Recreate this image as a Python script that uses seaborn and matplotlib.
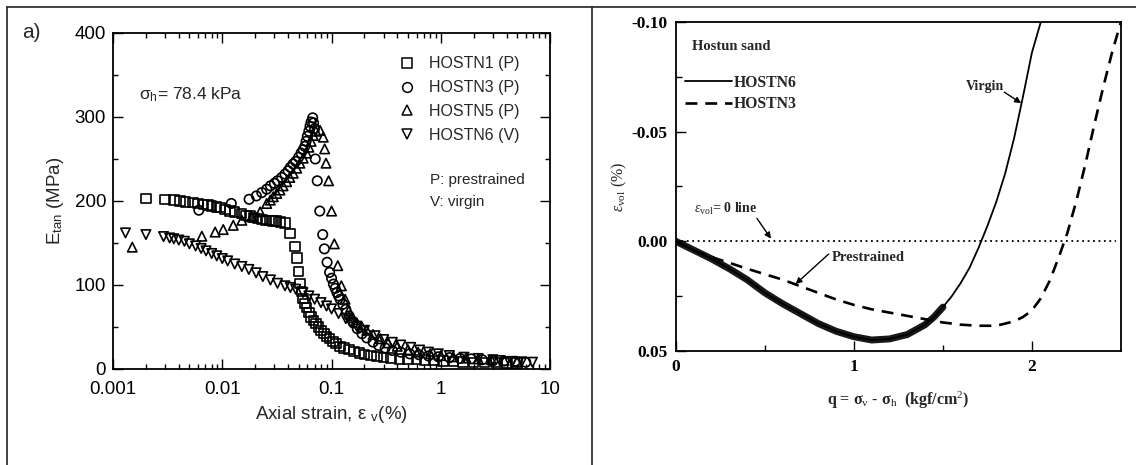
import numpy as np
import pandas as pd
import matplotlib
matplotlib.use("Agg")
import matplotlib.pyplot as plt
from matplotlib.lines import Line2D
from matplotlib.ticker import LogLocator, NullFormatter
import seaborn as sns

# ---------------- panel a) : tangent modulus vs axial strain ----------------
hostn1_strain = [0.002, 0.003, 0.0036, 0.0041, 0.0046, 0.0054, 0.006, 0.0067, 0.0074, 0.008,
                 0.0088, 0.0095, 0.0106, 0.0118, 0.013, 0.015, 0.0165, 0.018, 0.0192, 0.021,
                 0.023, 0.025, 0.027, 0.029, 0.031, 0.034, 0.0376, 0.0417, 0.0464, 0.0481,
                 0.0497, 0.0513, 0.053, 0.055, 0.057, 0.059, 0.062, 0.065, 0.068, 0.072,
                 0.076, 0.08, 0.085, 0.09, 0.096, 0.103, 0.11, 0.12, 0.13, 0.145,
                 0.16, 0.18, 0.2, 0.23, 0.26, 0.3, 0.35, 0.42, 0.5, 0.6,
                 0.72, 0.87, 1.05, 1.3, 1.6, 2.0, 2.5, 3.2, 4.0, 5.0]
hostn1_E = [203, 202, 201, 200, 199, 198, 197, 196, 195, 194,
            193, 192, 190, 188, 187, 185, 183, 182, 180, 179,
            178, 177, 177, 176, 176, 175, 174, 161, 146, 132,
            116, 102, 92, 84, 78, 73, 67, 62, 58, 54,
            50, 46, 42, 39, 36, 33, 30, 27, 25, 23,
            21, 19, 17, 16, 15, 14, 13, 12, 11.5, 11,
            10.5, 10, 9.5, 9, 8.5, 8, 8, 7.5, 7, 7]

hostn3_strain = [0.0061, 0.0121, 0.0176, 0.0205, 0.023, 0.0255, 0.0276, 0.030, 0.032, 0.035,
                 0.0375, 0.040, 0.042, 0.0445, 0.047, 0.050, 0.0526, 0.055, 0.057, 0.0585,
                 0.060, 0.062, 0.0635, 0.065, 0.0672, 0.0685, 0.0700, 0.071, 0.074, 0.078,
                 0.083, 0.086, 0.091, 0.096, 0.100, 0.104, 0.108, 0.112, 0.116, 0.120,
                 0.127, 0.135, 0.145, 0.158, 0.172, 0.19, 0.21, 0.24, 0.27, 0.31,
                 0.36, 0.43, 0.52, 0.63, 0.77, 0.95, 1.2, 1.5, 1.9, 2.4,
                 3.0, 3.8, 4.8, 6.0]
hostn3_E = [189, 197, 202, 206, 210, 214, 218, 221, 224, 228,
            232, 236, 240, 244, 247, 252, 257, 261, 265, 271,
            277, 283, 289, 294, 299, 293, 286, 250, 224, 188,
            160, 143, 127, 115, 108, 101, 96, 91, 87, 83,
            77, 71, 63, 55, 48, 42, 37, 32, 28, 25,
            22, 20, 18, 17, 15.5, 14.5, 13.5, 12.5, 12, 11,
            10, 9.5, 9, 8]

hostn5_strain = [0.0015, 0.0065, 0.0086, 0.0102, 0.0126, 0.0151, 0.0186, 0.0222, 0.0255, 0.0275,
                 0.0293, 0.0315, 0.0337, 0.036, 0.0388, 0.0415, 0.0446, 0.048, 0.0513, 0.055,
                 0.059, 0.062, 0.065, 0.068, 0.072, 0.0785, 0.084, 0.0865, 0.089, 0.094,
                 0.1, 0.106, 0.114, 0.123, 0.133, 0.144, 0.155, 0.17, 0.19, 0.21,
                 0.24, 0.28, 0.33, 0.4, 0.5, 0.62, 0.8, 1.0, 1.3, 1.7,
                 2.2, 2.9, 3.8, 5.0]
hostn5_E = [145, 158, 163, 166, 171, 177, 181, 187, 197, 201,
            205, 209, 213, 218, 223, 228, 233, 239, 245, 251,
            257, 264, 271, 278, 283, 284, 276, 262, 245, 224,
            188, 149, 123, 99, 83, 69, 61, 55, 50, 46,
            41, 36, 31, 27, 23, 20, 18, 16, 14.5, 13,
            12, 11, 10, 9]

hostn6_strain = [0.0013, 0.002, 0.0029, 0.0033, 0.0036, 0.004, 0.0045, 0.005, 0.0057, 0.0064,
                 0.0071, 0.008, 0.0089, 0.01, 0.0112, 0.013, 0.0151, 0.0175, 0.0204, 0.0235,
                 0.0276, 0.032, 0.0375, 0.042, 0.047, 0.0547, 0.062, 0.07, 0.08, 0.09,
                 0.1, 0.116, 0.135, 0.15, 0.17, 0.2, 0.25, 0.3, 0.36, 0.43,
                 0.53, 0.64, 0.77, 0.95, 1.2, 1.63, 2.2, 3.0, 3.47, 4.5,
                 5.5, 6.9]
hostn6_E = [162, 160, 157.6, 156, 155, 153.5, 152, 149, 146.5, 143.5,
            140.6, 137.5, 134.7, 131.5, 128.7, 125, 122, 118.5, 114.5, 110,
            106, 102, 99, 97, 95, 91, 87, 83, 79, 75,
            71.5, 66, 60, 56, 51, 46, 39.6, 35, 31.7, 28.5,
            25.7, 22.5, 20, 18, 16, 14, 12.5, 11, 10, 9,
            8.5, 8]

series_a = ["HOSTN1 (P)", "HOSTN3 (P)", "HOSTN5 (P)", "HOSTN6 (V)"]
markers_a = ["s", "o", "^", "v"]
xticks_a = [0.001, 0.01, 0.1, 1, 10]
xticklabels_a = ["0.001", "0.01", "0.1", "1", "10"]
yticks_a = [0, 100, 200, 300, 400]

# ---------------- panel b) : volumetric strain vs deviator stress ----------------
q_hostn6 = [0, 0.1, 0.2, 0.3, 0.4, 0.5, 0.6, 0.7, 0.8, 0.9, 1.0, 1.1, 1.2, 1.3, 1.4,
            1.45, 1.5, 1.55, 1.6, 1.65, 1.7, 1.75, 1.8, 1.85, 1.9, 1.95, 2.0, 2.05]
eps_hostn6 = [0, 0.004, 0.008, 0.0125, 0.0175, 0.0235, 0.0285, 0.033, 0.0375, 0.041,
              0.0435, 0.045, 0.0445, 0.0425, 0.038, 0.0345, 0.030, 0.025, 0.019, 0.012,
              0.003, -0.007, -0.018, -0.031, -0.047, -0.066, -0.086, -0.1]
q_hostn3 = [0, 0.1, 0.15, 0.2, 0.3, 0.4, 0.5, 0.6, 0.7, 0.8, 0.9, 1.0, 1.1, 1.2, 1.3,
            1.4, 1.5, 1.6, 1.7, 1.8, 1.9, 1.95, 2.0, 2.05, 2.1, 2.15, 2.2, 2.25, 2.3,
            2.35, 2.4, 2.45, 2.5]
eps_hostn3 = [0, 0.004, 0.0058, 0.0072, 0.0098, 0.0125, 0.015, 0.0175, 0.0205, 0.0235,
              0.0265, 0.029, 0.031, 0.0325, 0.034, 0.0355, 0.037, 0.038, 0.0385, 0.0385,
              0.0365, 0.0345, 0.0315, 0.026, 0.018, 0.0075, -0.004, -0.0185, -0.035,
              -0.053, -0.07, -0.086, -0.1]
yticks_b = [-0.10, -0.05, 0.00, 0.05]
yticklabels_b = ["-0.10", "-0.05", "0.00", "0.05"]
xticks_b = [0, 1, 2]

# ---------------- styling ----------------
sns.set_style("ticks")
plt.rcParams.update({
    "font.family": ["Liberation Sans", "DejaVu Sans"],
    "mathtext.fontset": "custom",
    "mathtext.rm": "Liberation Serif",
    "mathtext.it": "Liberation Serif:italic",
    "mathtext.bf": "Liberation Serif:bold",
    "mathtext.sf": "Liberation Sans",
})
SERIF = ["Liberation Serif", "DejaVu Serif"]

fig = plt.figure(figsize=(11.36, 4.65), dpi=100)
ax1 = fig.add_axes([0.0995, 0.2065, 0.3847, 0.7226])
ax2 = fig.add_axes([0.595, 0.2452, 0.3917, 0.7075])

# ---- panel a ----
frames = []
for name, xs, ys in zip(series_a,
                        [hostn1_strain, hostn3_strain, hostn5_strain, hostn6_strain],
                        [hostn1_E, hostn3_E, hostn5_E, hostn6_E]):
    frames.append(pd.DataFrame({"strain": xs, "E": ys, "series": name}))
df_a = pd.concat(frames, ignore_index=True)

sns.scatterplot(data=df_a, x="strain", y="E", style="series",
                markers=dict(zip(series_a, markers_a)), style_order=series_a,
                color="black", s=46, linewidth=1.2, legend=False, ax=ax1)
for coll in ax1.collections:
    coll.set_facecolor("none")
    coll.set_edgecolor("black")

ax1.set_xscale("log")
ax1.set_xlim(0.001, 10)
ax1.set_ylim(0, 400)
ax1.set_xticks(xticks_a, labels=xticklabels_a)
ax1.xaxis.set_minor_locator(LogLocator(base=10, subs=np.arange(2, 10) * 1.0, numticks=30))
ax1.xaxis.set_minor_formatter(NullFormatter())
ax1.set_yticks(yticks_a)
ax1.set_yticks([50, 150, 250, 350], minor=True)
ax1.tick_params(which="both", direction="in", top=True, right=True, width=1.0,
                labelsize=13.5, colors="black")
ax1.tick_params(which="major", length=7)
ax1.tick_params(which="minor", length=3.5)
ax1.tick_params(axis="x", which="major", pad=9)
ax1.tick_params(axis="y", which="major", pad=5)
for sp in ax1.spines.values():
    sp.set_linewidth(1.3)
    sp.set_color("black")
    sp.set_visible(True)
ax1.set_xlabel(r"Axial strain, ε $_{\mathsf{v}}$(%)", fontsize=13.5, labelpad=4)
ax1.set_ylabel(r"E$_{\mathsf{tan}}$ (MPa)", fontsize=13.5, labelpad=6)

ax1.text(0.00173, 326, r"σ$_{\mathsf{h}}$= 78.4 kPa", fontsize=12.5, va="center", ha="left")

handles = [Line2D([], [], ls="none", marker=m, ms=7, mfc="none", mec="black", mew=1.1)
           for m in markers_a]
ax1.legend(handles, series_a, loc="upper left", bbox_to_anchor=(0.654, 0.93),
           frameon=False, fontsize=11.5, handlelength=1.0, handletextpad=0.9,
           labelspacing=0.55, borderaxespad=0, borderpad=0)
ax1.text(0.797, 225, "P: prestrained", fontsize=11, va="center", ha="left")
ax1.text(0.797, 199, "V: virgin", fontsize=11, va="center", ha="left")

fig.text(0.028, 0.93, "a)", fontsize=15, ha="center", va="center")

# ---- panel b ----
q6 = np.array(q_hostn6)
e6 = np.array(eps_hostn6)
sns.lineplot(x=q6, y=e6, color="black", lw=1.3, estimator=None, sort=False, ax=ax2)
noisy = q6 <= 1.5
sns.lineplot(x=q6[noisy], y=e6[noisy], color="black", lw=5.0, alpha=0.9,
             estimator=None, sort=False, ax=ax2)
sns.lineplot(x=q_hostn3, y=eps_hostn3, color="black", lw=1.9, estimator=None, sort=False,
             ax=ax2).lines[-1].set_dashes((4.5, 3.0))
ax2.axhline(0, xmin=0, xmax=0.99, color="black", lw=1.3, ls=(0, (1.0, 2.0)))

ax2.set_xlim(0, 2.5)
ax2.set_ylim(0.05, -0.1)
ax2.set_xticks(xticks_b)
ax2.set_xticks([0.5, 1.5], minor=True)
ax2.set_yticks(yticks_b, labels=yticklabels_b)
ax2.set_yticks([-0.075, -0.025, 0.025], minor=True)
ax2.tick_params(which="both", direction="in", top=False, right=False, width=1.0,
                labelsize=12.5, colors="black")
ax2.tick_params(which="major", length=7, pad=6)
ax2.tick_params(which="minor", length=4)
for lab in ax2.get_xticklabels() + ax2.get_yticklabels():
    lab.set_family(SERIF)
    lab.set_fontweight("bold")
for sp in ax2.spines.values():
    sp.set_linewidth(1.3)
    sp.set_color("black")
    sp.set_visible(True)
ax2.set_xlabel(r"q = σ$_{\mathrm{v}}$ - σ$_{\mathrm{h}}$  (kgf/cm$^{\mathrm{2}}$)",
               fontsize=11.5, family=SERIF, fontweight="bold", labelpad=10)
ax2.set_ylabel(r"$\varepsilon_{\mathrm{vol}}$ (%)", fontsize=11.5, family=SERIF, labelpad=2)

ax2.text(0.09, -0.089, "Hostun sand", fontsize=10.5, family=SERIF, fontweight="bold",
         va="center", ha="left")
leg_handles = [Line2D([], [], color="black", lw=1.3),
               Line2D([], [], color="black", lw=1.9, dashes=(4.5, 3.0))]
ax2.legend(leg_handles, ["HOSTN6", "HOSTN3"], loc="upper left", bbox_to_anchor=(0.02, 0.84),
           frameon=False, prop={"family": SERIF, "weight": "bold", "size": 11.3},
           handlelength=3.0, handletextpad=0.1, labelspacing=0.35, borderaxespad=0,
           borderpad=0)

arrow = dict(arrowstyle="-|>", color="black", lw=1.0, mutation_scale=9, shrinkA=0, shrinkB=0)
ax2.text(1.63, -0.0705, "Virgin", fontsize=10, family=SERIF, fontweight="bold",
         va="center", ha="left")
ax2.annotate("", xy=(1.94, -0.063), xytext=(1.845, -0.068), arrowprops=arrow)
ax2.text(0.1, -0.0149, r"$\varepsilon_{\mathrm{vol}}$= 0 line", fontsize=10, family=SERIF,
         fontweight="bold", va="center", ha="left")
ax2.annotate("", xy=(0.534, -0.0012), xytext=(0.455, -0.0105), arrowprops=arrow)
ax2.text(0.877, 0.0074, "Prestrained", fontsize=10.5, family=SERIF, fontweight="bold",
         va="center", ha="left")
ax2.annotate("", xy=(0.672, 0.0195), xytext=(0.858, 0.0058), arrowprops=arrow)

# ---- table-like borders of the figure ----
for xs, ys in [([0.006, 1.0], [0.985, 0.985]),
               ([0.006, 0.006], [0.0, 0.985]),
               ([0.521, 0.521], [0.0, 0.985])]:
    fig.add_artist(Line2D(xs, ys, transform=fig.transFigure, color="#222222", lw=1.2))

fig.savefig("out.png", dpi=100)
